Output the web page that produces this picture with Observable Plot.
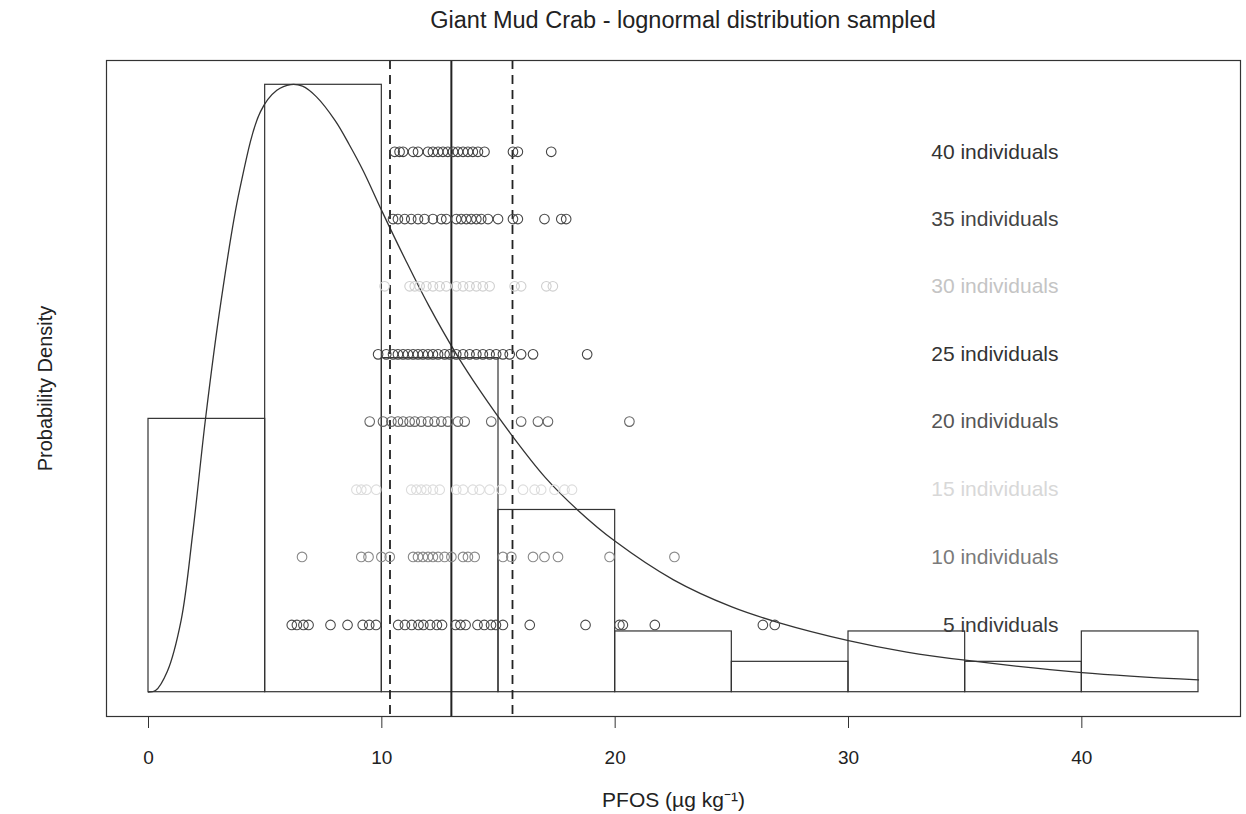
<!DOCTYPE html>
<html>
<head>
<meta charset="utf-8">
<script src="https://cdn.jsdelivr.net/npm/d3@7"></script>
<script src="https://cdn.jsdelivr.net/npm/@observablehq/plot@0.6"></script>
<style>
  html, body { margin: 0; padding: 0; background: #fff; }
  #title { position: relative; width: 1246px; height: 40px; }
  #title span { position: absolute; left: 116px; width: 1134px; top: 0; line-height: 40px; text-align: center;
    font-family: "Liberation Sans", Arial, sans-serif; font-size: 23.5px; color: #222; }
</style>
</head>
<body>
<div id="title"><span>Giant Mud Crab - lognormal distribution sampled</span></div>
<div id="chart"></div>
<script>
// ---- Data ----
const binStarts = [0, 5, 10, 15, 20, 25, 30, 35, 40];
const binCounts = [9, 20, 11, 6, 2, 1, 2, 1, 2];
const binWidth = 5;

// Fitted lognormal density curve
const curveX = [0, 0.3, 0.8, 1.4, 1.9, 2.45, 3.1, 3.9, 4.8, 5.5, 6.1, 6.6, 7.2, 8, 8.6, 9.2, 10, 11, 12, 13.2, 14.2, 15.5, 17, 18.4, 20, 22.5, 25, 27, 30, 32.5, 35, 40, 45];
const curveD = [0, 0.0002, 0.0025, 0.0088, 0.0195, 0.0335, 0.0475, 0.0612, 0.0708, 0.0734, 0.0741, 0.0739, 0.0726, 0.0697, 0.0668, 0.0636, 0.0587, 0.0528, 0.0472, 0.0412, 0.0368, 0.0316, 0.0262, 0.0222, 0.0184, 0.0137, 0.0104, 0.0085, 0.0063, 0.0049, 0.0039, 0.0024, 0.0015];

// Summary lines
const meanValue = 12.98;
const ciValues = [10.35, 15.6];

// Sample rows: sample size, vertical level (density units), sampled means
const rowSizes  = [5, 10, 15, 20, 25, 30, 35, 40];
const rowLevels = [0.0082, 0.0165, 0.0247, 0.0330, 0.0412, 0.0495, 0.0577, 0.0659];
const means5  = [6.14, 6.36, 6.64, 6.86, 7.80, 8.53, 9.18, 9.46, 9.75, 10.70, 10.99, 11.28, 11.57, 11.78, 12.07, 12.36, 12.58, 13.16, 13.37, 13.59, 14.10, 14.39, 14.68, 14.89, 15.19, 16.34, 18.73, 20.18, 20.33, 21.70, 26.33, 26.84];
const means10 = [6.58, 9.12, 9.43, 9.98, 10.34, 11.34, 11.55, 11.76, 11.98, 12.19, 12.41, 12.69, 12.98, 13.48, 13.69, 13.98, 15.19, 15.55, 16.48, 16.97, 17.55, 19.76, 22.54];
const means15 = [8.91, 9.12, 9.34, 9.76, 11.26, 11.48, 11.69, 11.91, 12.19, 12.48, 13.19, 13.48, 13.90, 14.19, 14.62, 15.12, 16.05, 16.55, 16.83, 17.40, 17.83, 18.15];
const means20 = [9.48, 10.05, 10.41, 10.69, 10.91, 11.19, 11.41, 11.69, 11.98, 12.26, 12.55, 12.83, 13.26, 13.55, 14.69, 15.97, 16.69, 17.12, 20.61];
const means25 = [9.84, 10.19, 10.48, 10.69, 10.91, 11.12, 11.34, 11.55, 11.76, 11.98, 12.19, 12.41, 12.69, 12.91, 13.19, 13.48, 13.76, 14.05, 14.33, 14.62, 14.90, 15.19, 15.48, 15.97, 16.48, 18.80];
const means30 = [10.12, 11.19, 11.41, 11.62, 11.91, 12.19, 12.48, 12.76, 13.19, 13.48, 13.76, 14.05, 14.33, 14.62, 15.69, 15.97, 17.05, 17.33];
const means35 = [10.48, 10.69, 10.98, 11.26, 11.55, 11.83, 12.19, 12.55, 12.76, 13.19, 13.40, 13.62, 13.83, 14.05, 14.26, 14.55, 14.98, 15.62, 15.83, 16.97, 17.69, 17.90];
const means40 = [10.55, 10.76, 10.91, 11.34, 11.55, 11.98, 12.19, 12.41, 12.62, 12.83, 13.05, 13.26, 13.48, 13.69, 13.90, 14.12, 14.40, 15.62, 15.83, 17.26];
const rowLabelX = 39;
const xTicks = [0, 10, 20, 30, 40];
const xLabel = "PFOS (µg kg⁻¹)";
const yLabel = "Probability Density";

// ---- Build tables ----
const total = d3.sum(binCounts);
const bins = binStarts.map((s, i) => ({x1: s, x2: s + binWidth, density: binCounts[i] / (total * binWidth)}));
const curve = curveX.map((x, i) => ({x, y: curveD[i]}));
const allMeans = [means5, means10, means15, means20, means25, means30, means35, means40];
const rows = rowSizes.map((n, i) => ({n, level: rowLevels[i], pts: allMeans[i].map(x => ({x, y: rowLevels[i]})), label: `${n} individuals`}));

// styling (photocopy fading of some rows)
const dotColor   = {5: "#4a4a4a", 10: "#8a8a8a", 15: "#dcdcdc", 20: "#666", 25: "#444", 30: "#cfcfcf", 35: "#4a4a4a", 40: "#444"};
const labelColor = {5: "#3a3a3a", 10: "#7a7a7a", 15: "#d8d8d8", 20: "#555", 25: "#333", 30: "#c4c4c4", 35: "#444", 40: "#333"};

const ymax = d3.max(bins, d => d.density);
const xmax = 45;

const marks = [
  Plot.rect(bins, {x1: "x1", x2: "x2", y1: 0, y2: "density", fill: "none", stroke: "#333", strokeWidth: 1.2}),
  Plot.line(curve, {x: "x", y: "y", curve: "catmull-rom", stroke: "#333", strokeWidth: 1.3}),
  Plot.ruleX([meanValue], {stroke: "#222", strokeWidth: 2}),
  Plot.ruleX(ciValues, {stroke: "#222", strokeWidth: 1.8, strokeDasharray: "9,6"})
];
for (const r of rows) {
  marks.push(Plot.dot(r.pts, {x: "x", y: "y", r: 4.8, stroke: dotColor[r.n], strokeWidth: 1.1, fill: "none"}));
  marks.push(Plot.text([r], {x: () => rowLabelX, y: "level", text: "label", textAnchor: "end", fill: labelColor[r.n], fontSize: 21}));
}
marks.push(
  Plot.frame({stroke: "#333", strokeWidth: 1.2}),
  Plot.axisX({ticks: xTicks, tickSize: 12, tickPadding: 22, fontSize: 19, label: null, stroke: "#333"}),
  Plot.text([xLabel], {frameAnchor: "bottom", dy: 84, lineAnchor: "middle", textAnchor: "middle", fontSize: 21, fill: "#222"}),
  Plot.text([yLabel], {frameAnchor: "left", dx: -61, rotate: -90, lineAnchor: "middle", textAnchor: "middle", fontSize: 20, fill: "#222"})
);

const chart = Plot.plot({
  width: 1246,
  height: 774,
  marginTop: 20,
  marginBottom: 98,
  marginLeft: 106,
  marginRight: 6,
  style: {fontFamily: "'Liberation Sans', Arial, sans-serif", fontSize: "19px", background: "#fff", color: "#222"},
  x: {domain: [-0.04 * xmax, 1.04 * xmax]},
  y: {domain: [-0.04 * ymax, 1.04 * ymax], axis: null},
  marks
});
document.getElementById("chart").appendChild(chart);
</script>
</body>
</html>
